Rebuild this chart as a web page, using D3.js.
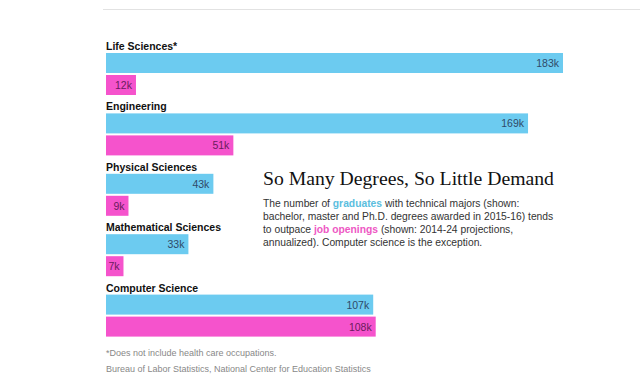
<!DOCTYPE html>
<html>
<head>
<meta charset="utf-8">
<script src="https://cdn.jsdelivr.net/npm/d3@7"></script>
<style>
    body { margin: 0; background: #fff; }
    svg { display: block; }
</style>
</head>
<body>
<svg id="chart" width="640" height="380"></svg>
<script>
// categories and values (thousands)
const fields = ["Life Sciences*", "Engineering", "Physical Sciences", "Mathematical Sciences", "Computer Science"];
const graduates = [183, 169, 43, 33, 107];
const openings = [12, 51, 9, 7, 108];

const bodyLines = [
    [["The number of ", null], ["graduates", "grad"], [" with technical majors (shown:", null]],
    [["bachelor, master and Ph.D. degrees awarded in 2015-16) tends", null]],
    [["to outpace ", null], ["job openings", "job"], [" (shown: 2014-24 projections,", null]],
    [["annualized). Computer science is the exception.", null]]
];
const notes = ["*Does not include health care occupations.",
    "Bureau of Labor Statistics, National Center for Education Statistics"];

const blue = "#6ccbf0", pink = "#f553cc";

// set the dimensions and margins of the chart
const margin = {top: 53, left: 106};

const x = d3.scaleLinear()
    .domain([0, 183])
    .range([0, 457]);

const y = d3.scaleBand()
    .domain(fields)
    .range([0, 302])
    .paddingInner(0);

const barH = 20, barGap = 2;

let svg = d3.select("#chart");

// thin rule on top
svg.append("line")
    .attr("x1", 103).attr("x2", 640)
    .attr("y1", 9.5).attr("y2", 9.5)
    .attr("stroke", "#e2e2e2")
    .attr("stroke-width", 1);

let g = svg.append("g")
    .attr("transform", "translate(" + margin.left + "," + margin.top + ")");

let rows = fields.map(function(f, i) {
    return {name: f, grad: graduates[i], job: openings[i]};
});

let group = g.selectAll(".group")
    .data(rows)
    .enter().append("g")
    .attr("class", "group")
    .attr("transform", function(d) { return "translate(0," + y(d.name) + ")"; });

// field name above the bars
group.append("text")
    .attr("x", 0)
    .attr("y", -3)
    .attr("font-family", "Liberation Sans, Arial, sans-serif")
    .attr("font-size", 10.5)
    .attr("font-weight", "bold")
    .attr("fill", "#111")
    .text(function(d) { return d.name; });

// graduates bar
group.append("rect")
    .attr("x", 0)
    .attr("y", 0)
    .attr("width", function(d) { return x(d.grad); })
    .attr("height", barH)
    .attr("fill", blue);

group.append("text")
    .attr("x", function(d) { return x(d.grad) - 4; })
    .attr("y", barH / 2 + 4)
    .attr("text-anchor", "end")
    .attr("font-family", "Liberation Sans, Arial, sans-serif")
    .attr("font-size", 10.5)
    .attr("fill", "#2f4a68")
    .text(function(d) { return d.grad + "k"; });

// job openings bar
group.append("rect")
    .attr("x", 0)
    .attr("y", barH + barGap)
    .attr("width", function(d) { return x(d.job); })
    .attr("height", barH)
    .attr("fill", pink);

group.append("text")
    .attr("x", function(d) { return x(d.job) - 4; })
    .attr("y", barH + barGap + barH / 2 + 4)
    .attr("text-anchor", "end")
    .attr("font-family", "Liberation Sans, Arial, sans-serif")
    .attr("font-size", 10.5)
    .attr("fill", "#6a1c5c")
    .text(function(d) { return d.job + "k"; });

// headline and chatter
svg.append("text")
    .attr("x", 263)
    .attr("y", 185)
    .attr("font-family", "Liberation Serif, Times New Roman, serif")
    .attr("font-size", 19.7)
    .attr("fill", "#111")
    .text("So Many Degrees, So Little Demand");

let body = svg.append("text")
    .attr("font-family", "Liberation Sans, Arial, sans-serif")
    .attr("font-size", 10.3)
    .attr("fill", "#333");

bodyLines.forEach(function(line, i) {
    line.forEach(function(part, j) {
        let t = body.append("tspan").text(part[0]);
        if(j === 0) t.attr("x", 263).attr("y", 207 + i * 13);
        if(part[1] === "grad") t.attr("fill", "#5bbede").attr("font-weight", "bold");
        if(part[1] === "job") t.attr("fill", "#ee58c4").attr("font-weight", "bold");
    });
});

// notes
svg.selectAll(".note")
    .data(notes)
    .enter().append("text")
    .attr("class", "note")
    .attr("x", 106)
    .attr("y", function(d, i) { return 356 + i * 16; })
    .attr("font-family", "Liberation Sans, Arial, sans-serif")
    .attr("font-size", 9)
    .attr("fill", "#888")
    .text(function(d) { return d; });
</script>
</body>
</html>
